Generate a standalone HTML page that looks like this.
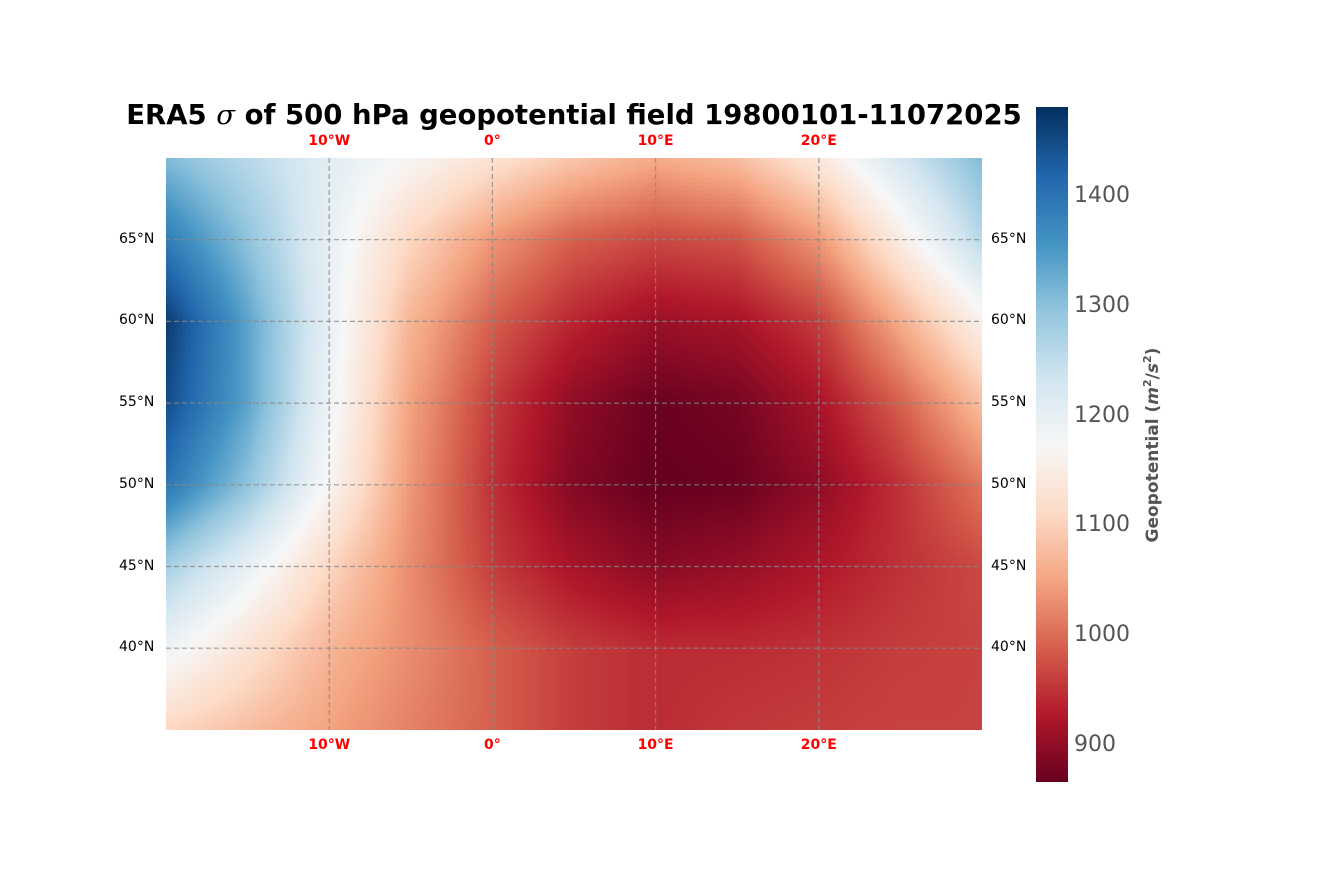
<!DOCTYPE html>
<html><head><meta charset="utf-8"><style>
body{margin:0;background:#fff;width:1320px;height:880px;position:relative;overflow:hidden;font-family:"DejaVu Sans","Liberation Sans",sans-serif}
.t{position:absolute;white-space:nowrap}
.red{color:#f00;font-weight:bold;font-size:14px;transform:translateX(-50%)}
.lat{font-size:14px;color:#000}
.cb{font-size:22px;color:#555}
</style></head><body>
<div class="t" style="left:574px;top:99px;transform:translateX(-50%);font-size:27.5px;font-weight:bold">ERA5 <i style="font-family:'DejaVu Serif',serif;font-weight:normal">σ</i> of 500 hPa geopotential field 19800101-11072025</div>
<canvas id="map" width="816" height="572" style="position:absolute;left:166px;top:158px"></canvas>
<svg id="ov" width="1320" height="880" style="position:absolute;left:0;top:0"></svg>
<canvas id="cbar" width="32" height="675" style="position:absolute;left:1036px;top:107px"></canvas>
<div id="labels"></div>
<div class="t" style="left:1152px;top:445px;transform:translate(-50%,-50%) rotate(-90deg);font-size:17px;font-weight:bold;color:#555">Geopotential (<i>m</i><sup style="font-size:11px">2</sup>/<i>s</i><sup style="font-size:11px">2</sup>)</div>
<script>
const lons=[-20,-15,-10,-5,0,5,10,15,20,25,30];
const lats=[70,65,60,55,50,45,40,35];
const field=[
[1310,1260,1210,1170,1130,1090,1060,1080,1140,1230,1310],
[1390,1300,1200,1110,1040,990,970,980,1040,1150,1260],
[1470,1340,1200,1070,990,940,910,920,960,1060,1160],
[1450,1340,1190,1050,960,900,870,880,920,990,1080],
[1400,1300,1170,1040,950,890,865,870,900,950,1010],
[1280,1200,1110,1030,960,920,895,905,925,950,970],
[1190,1130,1070,1030,990,960,945,945,950,960,965],
[1110,1080,1050,1020,990,960,945,955,960,965,965]];
const cbTicks=[900,1000,1100,1200,1300,1400];
const lonTicks=[-10,0,10,20];
const latTicks=[40,45,50,55,60,65];
const vmin=867,vmax=1482;
const stops=[[0,[103,0,31]],[0.1,[178,24,43]],[0.2,[214,96,77]],[0.3,[244,165,130]],[0.4,[253,219,199]],[0.5,[247,247,247]],[0.6,[209,229,240]],[0.7,[146,197,222]],[0.8,[67,147,195]],[0.9,[33,102,172]],[1,[5,48,97]]];
function cmap(v){let t=Math.max(0,Math.min(1,(v-vmin)/(vmax-vmin)));for(let i=1;i<stops.length;i++){if(t<=stops[i][0]){const a=stops[i-1],b=stops[i],f=(t-a[0])/(b[0]-a[0]);return a[1].map((c,k)=>Math.round(c+(b[1][k]-c)*f));}}return stops[10][1];}
const X=lon=>166+(lon+20)*16.32, Y=lat=>158+(70-lat)*16.34;
function val(lon,lat){let fi=(lon-lons[0])/5,fj=(lats[0]-lat)/5;fi=Math.max(0,Math.min(lons.length-1.001,fi));fj=Math.max(0,Math.min(lats.length-1.001,fj));const i=Math.floor(fi),j=Math.floor(fj),a=fi-i,b=fj-j;return field[j][i]*(1-a)*(1-b)+field[j][i+1]*a*(1-b)+field[j+1][i]*(1-a)*b+field[j+1][i+1]*a*b;}
const ctx=document.getElementById('map').getContext('2d');
const step=0.25;
for(let lon=-20;lon<30;lon+=step)for(let lat=70;lat>35;lat-=step){const c=cmap(val(lon+step/2,lat-step/2));ctx.fillStyle=`rgb(${c})`;ctx.fillRect(Math.floor(X(lon)-166),Math.floor(Y(lat)-158),Math.ceil(step*16.32)+1,Math.ceil(step*16.34)+1);}
const cb=document.getElementById('cbar').getContext('2d');
for(let y=0;y<675;y++){const c=cmap(vmax-(vmax-vmin)*y/675);cb.fillStyle=`rgb(${c})`;cb.fillRect(0,y,32,1);}
const ov=document.getElementById('ov'),NS='http://www.w3.org/2000/svg';
function line(x1,y1,x2,y2,name){const l=document.createElementNS(NS,'line');l.setAttribute('x1',x1);l.setAttribute('y1',y1);l.setAttribute('x2',x2);l.setAttribute('y2',y2);l.setAttribute('stroke','#888');l.setAttribute('stroke-width','1.2');l.setAttribute('stroke-dasharray','5,3');l.setAttribute('opacity','0.8');


ov.appendChild(l);}
const L=document.getElementById('labels');
function lab(txt,x,y,cls,name,style){const d=document.createElement('div');d.className='t '+cls;d.textContent=txt;d.style.left=x+'px';d.style.top=y+'px';if(style)d.style.cssText+=style;


L.appendChild(d);}
lonTicks.forEach(lo=>{const x=X(lo);line(x,158,x,730,'meridian-gridline');const t=lo<0?(-lo)+'°W':lo==0?'0°':lo+'°E';lab(t,x,133,'red','top-lon-label');lab(t,x,737,'red','bottom-lon-label');});
latTicks.forEach(la=>{const y=Y(la);line(166,y,982,y,'parallel-gridline');lab(la+'°N',119,y-9,'lat','left-lat-label');lab(la+'°N',991,y-9,'lat','right-lat-label');});
cbTicks.forEach(v=>{const y=107+(vmax-v)/(vmax-vmin)*675;lab(String(v),1074,y-14,'cb','colorbar-tick-label');});
</script>
</body></html>
